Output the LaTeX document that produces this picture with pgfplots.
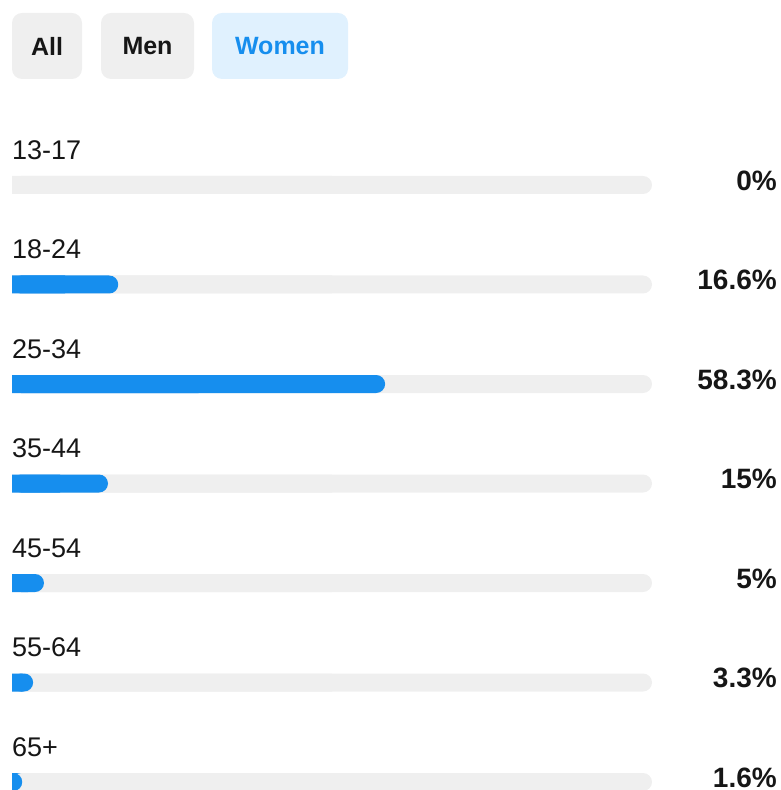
\documentclass[border=0pt]{standalone}
\usepackage{pgfplots}
\usepackage{pgfplotstable}
\pgfplotsset{compat=1.18}
\usepackage{fontspec}
\setmainfont{Liberation Sans}

\definecolor{track}{RGB}{239,239,239}
\definecolor{igblue}{RGB}{22,142,238}
\definecolor{btngray}{RGB}{239,239,239}
\definecolor{btnblue}{RGB}{224,241,254}
\definecolor{txt}{RGB}{22,22,22}

% women, share of audience by age group (%)
\pgfplotstableread{
idx  val   lab
0    0     13-17
1    16.6  18-24
2    58.3  25-34
3    15    35-44
4    5     45-54
5    3.3   55-64
6    1.6   65+
}\agedata

\begin{document}
\begin{tikzpicture}
\useasboundingbox (0pt,0pt) rectangle (781pt,790pt);
\begin{axis}[
    scale only axis,
    width=781pt, height=790pt,
    xmin=-1.875, xmax=120.156,
    ymin=-1.8593, ymax=6.0804,
    y dir=reverse,
    axis lines=none,
    ticks=none,
]
    % grey tracks (100%), rounded on the right only
    \addplot[xbar, bar width=18pt, bar shift=0pt, fill=track, draw=none, rounded corners=9pt]
        table[x expr=100, y=idx] {\agedata};
    \addplot[xbar, bar width=18pt, bar shift=0pt, fill=track, draw=none]
        table[x expr=50, y=idx] {\agedata};
    % blue bars (zero values skipped)
    \addplot[xbar, bar width=18pt, bar shift=0pt, fill=igblue, draw=none, rounded corners=9pt,
        restrict x to domain=0.01:200]
        table[x=val, y=idx] {\agedata};
    \addplot[xbar, bar width=18pt, bar shift=0pt, fill=igblue, draw=none,
        restrict x to domain=0.01:200]
        table[x expr=\thisrow{val}/2, y=idx] {\agedata};
    % age group labels
    \addplot[draw=none, mark=none, nodes near coords, point meta=explicit symbolic,
        every node near coord/.append style={anchor=west, inner sep=0pt, text=txt,
            font=\fontsize{27}{32}\selectfont}]
        table[x expr=0, y expr=\thisrow{idx}-0.352, meta=lab] {\agedata};
    % percentage labels
    \addplot[draw=none, mark=none, nodes near coords={\pgfplotspointmeta\%}, point meta=explicit symbolic,
        every node near coord/.append style={anchor=east, inner sep=0pt, text=txt,
            font=\fontsize{28}{33}\selectfont\bfseries}]
        table[x expr=119.53, y expr=\thisrow{idx}-0.045, meta=val] {\agedata};
\end{axis}
% filter buttons
\fill[btngray, rounded corners=10pt] (12pt,777pt) rectangle (82pt,711pt);
\fill[btngray, rounded corners=10pt] (101pt,777pt) rectangle (194pt,711pt);
\fill[btnblue, rounded corners=10pt] (212pt,777pt) rectangle (348pt,711pt);
\node[text=txt, font=\fontsize{25}{30}\selectfont\bfseries] at (47pt,744pt) {All};
\node[text=txt, font=\fontsize{25}{30}\selectfont\bfseries] at (147.5pt,744pt) {Men};
\node[text=igblue, font=\fontsize{25}{30}\selectfont\bfseries] at (280pt,744pt) {Women};
\end{tikzpicture}
\end{document}
